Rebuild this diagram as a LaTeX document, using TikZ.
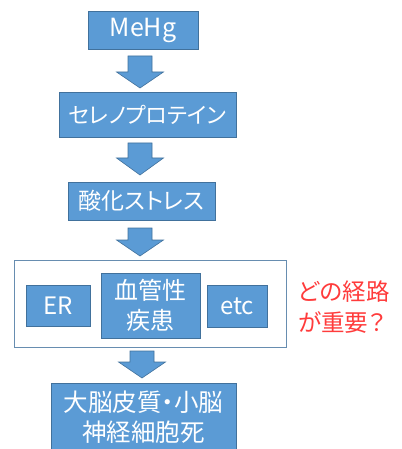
\documentclass[tikz,border=0pt]{standalone}
\usepackage{fontspec}
\setmainfont{Noto Sans CJK JP}[RawFeature=+palt]
\definecolor{boxfill}{HTML}{5B9BD5}
\definecolor{boxline}{HTML}{41719C}
\definecolor{redtxt}{HTML}{FF3B3B}
\tikzset{
  bluebox/.style={draw=boxline, line width=0.8pt, fill=boxfill, text=white, inner sep=0pt, align=center,
    font=\fontsize{24}{30}\selectfont},
  outerbox/.style={draw=boxline!80, line width=0.9pt, fill=white, inner sep=0pt},
  blockarrow/.style={draw=boxline, line width=0.6pt, fill=boxfill},
}
\newcommand{\myblockarrow}[4]{% cx, ytop, yhead, ytip
  \draw[blockarrow] ({#1-12},#2) -- ({#1+12},#2) -- ({#1+12},#3) -- ({#1+23.5},#3) -- (#1,#4) -- ({#1-23.5},#3) -- ({#1-12},#3) -- cycle;}
\begin{document}
\begin{tikzpicture}[x=1pt,y=-1pt]
\useasboundingbox (0,0) rectangle (401,449);
\clip (0,0) rectangle (401,449);
\node[bluebox, minimum width=110pt, minimum height=38pt, font=\fontsize{25}{30}\selectfont] (mehg) at (143,30) {MeHg};
\node[bluebox, minimum width=177pt, minimum height=45pt, font=\fontsize{22}{30}\selectfont] (selen) at (147.5,114.5) {セレノプロテイン};
\node[bluebox, minimum width=147pt, minimum height=38pt, font=\fontsize{23}{30}\selectfont] (sanka) at (141.5,201) {酸化ストレス};
\node[outerbox, minimum width=272pt, minimum height=87pt] (outer) at (150,303.5) {};
\node[bluebox, minimum width=64pt, minimum height=41pt] (er) at (58,305.5) {ER};
\node[bluebox, minimum width=99pt, minimum height=65pt] (kekkan) at (150.5,305.5) {血管性\\疾患};
\node[bluebox, minimum width=60pt, minimum height=42pt] (etc) at (237,306) {etc};
\node[bluebox, minimum width=185pt, minimum height=69pt, font=\fontsize{24.5}{30}\selectfont] (death) at (143.5,417.5) {大脳皮質・小脳\\神経細胞死};
\node[text=redtxt, anchor=west, inner sep=0pt, align=left, font=\fontsize{23.5}{31}\selectfont] (q) at (298,307.5) {どの経路\\が重要？};
\myblockarrow{140}{56}{72}{88}
\myblockarrow{140}{143}{158}{175}
\myblockarrow{140}{228}{240}{256}
\myblockarrow{142}{351}{362}{378}
\end{tikzpicture}
\end{document}
